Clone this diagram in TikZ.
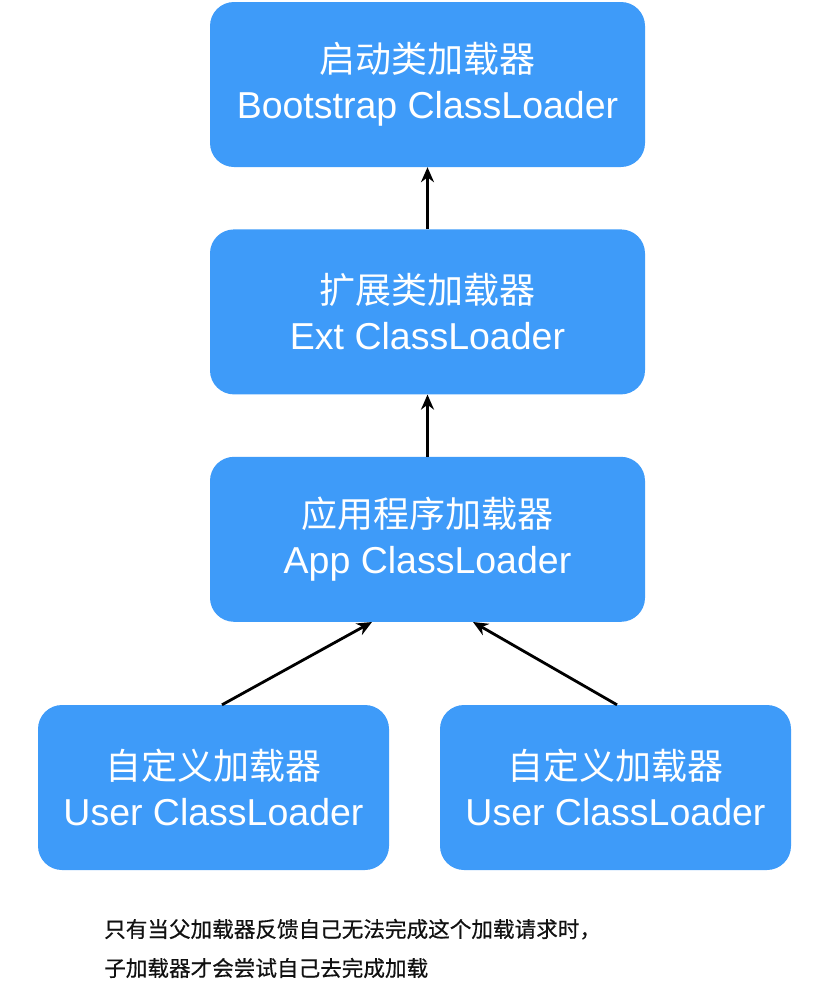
\documentclass[tikz,border=0pt]{standalone}
\usepackage{fontspec}
\setmainfont{Liberation Sans}
\newfontfamily\cjk{Noto Sans CJK SC}
\newfontfamily\cjknote[FakeBold=0.5]{Noto Sans CJK SC}
\usetikzlibrary{arrows.meta, positioning}
\definecolor{LoaderBlue}{HTML}{3E9BF9}
\definecolor{NoteBlack}{HTML}{111111}

\begin{document}
\begin{tikzpicture}[x=1pt, y=-1pt,
          lbox/.style={rectangle, rounded corners=24pt, fill=LoaderBlue, draw=none,
                        minimum height=165pt, minimum width=435pt, inner sep=0pt,
                        font=\fontsize{37.5}{46}\selectfont, align=center, text=white},
          ubox/.style={lbox, minimum width=351pt},
          arr/.style={-{Stealth[length=15pt, width=13pt]}, line width=2.8pt, color=black},
          node distance=62pt
        ]
          \useasboundingbox (0,0) rectangle (818,1004);
          \node[lbox] (boot) at (427.5,84.5) {{\cjk\fontsize{36}{46}\selectfont 启动类加载器}\\Bootstrap ClassLoader};
          \node[lbox, below=of boot] (ext) {{\cjk\fontsize{36}{46}\selectfont 扩展类加载器}\\Ext ClassLoader};
          \node[lbox, below=of ext] (app) {{\cjk\fontsize{36}{46}\selectfont 应用程序加载器}\\App ClassLoader};
          \node[ubox] (user1) at (213.5,787.5) {{\cjk\fontsize{36}{46}\selectfont 自定义加载器}\\User ClassLoader};
          \node[ubox] (user2) at (615.5,787.5) {{\cjk\fontsize{36}{46}\selectfont 自定义加载器}\\User ClassLoader};
          \node[anchor=west, inner sep=0pt, align=left, text=NoteBlack,
                font=\cjknote\fontsize{21.6}{39}\selectfont] (note) at (104,948.5)
                {只有当父加载器反馈自己无法完成这个加载请求时，\\子加载器才会尝试自己去完成加载};
          \draw[arr] (ext.north) -- (boot.south);
          \draw[arr] (app.north) -- (ext.south);
          \draw[arr] ([xshift=8.5pt]user1.north) -- ([xshift=-55.5pt]app.south);
          \draw[arr] ([xshift=1.5pt]user2.north) -- ([xshift=45.5pt]app.south);
        \end{tikzpicture}
\end{document}
